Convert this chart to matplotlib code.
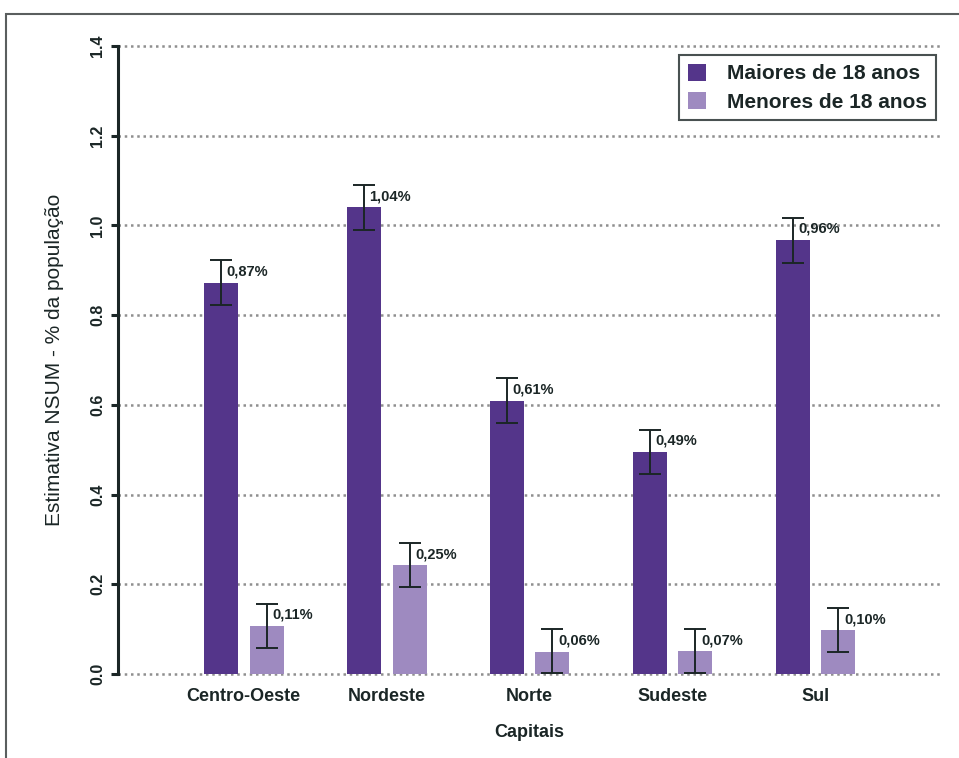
import matplotlib
matplotlib.use("Agg")
import matplotlib.pyplot as plt
import numpy as np
from matplotlib.patches import Rectangle

plt.rcParams['font.family'] = ['Liberation Sans', 'DejaVu Sans']

categories = ["Centro-Oeste", "Nordeste", "Norte", "Sudeste", "Sul"]
maiores = [0.872, 1.040, 0.609, 0.495, 0.967]
maiores_lo = [0.822, 0.990, 0.559, 0.445, 0.917]
maiores_hi = [0.922, 1.090, 0.659, 0.545, 1.017]
menores = [0.107, 0.243, 0.049, 0.051, 0.098]
menores_lo = [0.057, 0.194, 0.002, 0.002, 0.049]
menores_hi = [0.157, 0.292, 0.100, 0.100, 0.147]
maiores_labels = ["0,87%", "1,04%", "0,61%", "0,49%", "0,96%"]
menores_labels = ["0,11%", "0,25%", "0,06%", "0,07%", "0,10%"]
yticks = [0.0, 0.2, 0.4, 0.6, 0.8, 1.0, 1.2, 1.4]

dark = "#54358A"
light = "#9E8AC0"
txt = "#1b2626"

fig = plt.figure(figsize=(9.59, 7.58), dpi=100)
ax = fig.add_axes([0.123, 0.1108, 0.857, 0.8285])

# figure frame
fig.patches.append(Rectangle((6/959, -0.1), 1.2, 1 - 14/758 + 0.1,
                             transform=fig.transFigure, fill=False,
                             edgecolor="#5a5e5e", linewidth=1.5, zorder=0))

x = np.arange(len(categories))
w = 0.238
off = 0.16

ax.bar(x - off, maiores, w, color=dark, label="Maiores de 18 anos", zorder=3)
ax.bar(x + off, menores, w, color=light, label="Menores de 18 anos", zorder=3)

def draw_err(xs, vals, lo, hi, labels):
    vals = np.array(vals); lo = np.array(lo); hi = np.array(hi)
    ax.errorbar(xs, vals, yerr=[vals - lo, hi - vals], fmt='none',
                ecolor=txt, elinewidth=1.4, capsize=8, capthick=1.4, zorder=4)
    for xi, h, lab in zip(xs, hi, labels):
        ax.annotate(lab, xy=(xi, h), xytext=(4, -3), textcoords='offset points',
                    ha='left', va='top', fontsize=10.5, fontweight='bold',
                    color=txt, zorder=5)

draw_err(x - off, maiores, maiores_lo, maiores_hi, maiores_labels)
draw_err(x + off, menores, menores_lo, menores_hi, menores_labels)

ax.set_xlim(-0.88, 4.87)
ax.set_ylim(0, 1.4)
ax.set_yticks(yticks)
ax.set_yticklabels([f"{t:.1f}" for t in yticks], rotation=90, va='center',
                   fontsize=11.5, fontweight='bold', color=txt)
ax.set_xticks(x)
ax.set_xticklabels(categories, fontsize=13, fontweight='bold', color=txt)
ax.tick_params(axis='x', length=0, pad=10)
ax.tick_params(axis='y', length=5, width=2.2, color=txt, pad=4)

for s in ['top', 'right', 'bottom']:
    ax.spines[s].set_visible(False)
ax.spines['left'].set_linewidth(2.2)
ax.spines['left'].set_color(txt)

ax.yaxis.grid(True, linestyle=(0, (1, 1.5)), color="#8f8f8f", linewidth=1.8, zorder=0)
for gl in ax.get_ygridlines():
    gl.set_clip_on(False)
ax.set_axisbelow(True)

ax.set_xlabel("Capitais", fontsize=13, fontweight='bold', color=txt, labelpad=14)
ax.set_ylabel("Estimativa NSUM - % da população", fontsize=15, color=txt, labelpad=19)

leg = ax.legend(loc='upper right', bbox_to_anchor=(1.0, 0.992),
                prop={'weight': 'bold', 'size': 15}, frameon=True, fancybox=False,
                handlelength=0.9, handleheight=0.9, handletextpad=1.0,
                borderpad=0.4, labelspacing=0.4, borderaxespad=0.2)
leg.get_frame().set_edgecolor(txt)
leg.get_frame().set_linewidth(1.5)
for t in leg.get_texts():
    t.set_color(txt)

fig.savefig("out.png", dpi=100, facecolor="white")
